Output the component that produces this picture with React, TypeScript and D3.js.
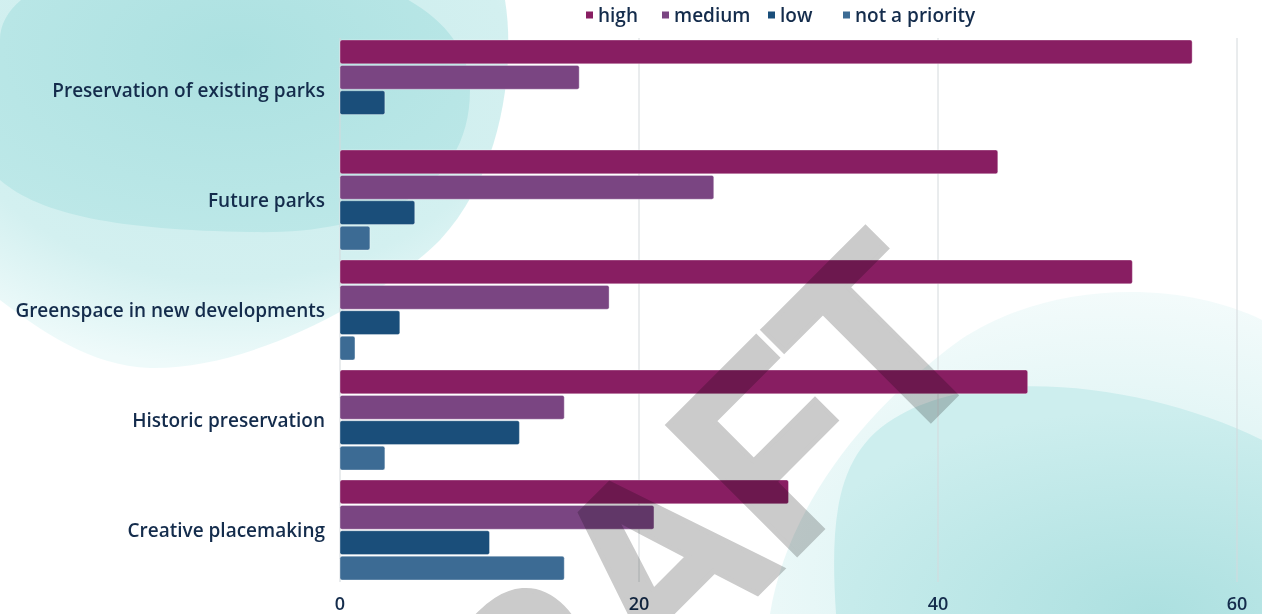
import React from "react";
import * as d3 from "d3";

const categories = [
  "Preservation of existing parks",
  "Future parks",
  "Greenspace in new developments",
  "Historic preservation",
  "Creative placemaking",
];
const seriesNames = ["high", "medium", "low", "not a priority"];
const high = [57, 44, 53, 46, 30];
const medium = [16, 25, 18, 15, 21];
const low = [3, 5, 4, 12, 10];
const notPriority = [0, 2, 1, 3, 15];
const xTicks = [0, 20, 40, 60];
const colors = ["#881e62", "#7a4582", "#1a4e7a", "#3c6b94"];

const W = 1262;
const H = 614;
const FONT = "'Open Sans', Lato, sans-serif";
const TEXT = "#142c4c";

export default function App() {
  const seriesValues = [high, medium, low, notPriority];
  const x = d3.scaleLinear().domain([0, 60]).range([340, 1237]);
  const y = d3
    .scaleBand<string>()
    .domain(categories)
    .range([35, 585])
    .paddingInner(0.0909)
    .paddingOuter(0.04545);
  const y1 = d3
    .scaleBand<string>()
    .domain(seriesNames)
    .range([0, y.bandwidth()])
    .paddingInner(0.06);

  const legendX = [586, 662, 768, 843];

  return (
    <svg
      width={W}
      height={H}
      style={{ position: "fixed", left: 0, top: 0, display: "block", background: "#fff" }}
    >
      <defs>
        <radialGradient id="gA" cx="0.45" cy="0.2" r="0.8">
          <stop offset="0" stopColor="#c9ecec" />
          <stop offset="0.7" stopColor="#d3f0f0" />
          <stop offset="1" stopColor="#eefafa" />
        </radialGradient>
        <radialGradient id="gB" cx="0.5" cy="0.35" r="0.7">
          <stop offset="0" stopColor="#ace1e1" />
          <stop offset="1" stopColor="#bde8e8" />
        </radialGradient>
        <radialGradient id="gC" cx="0.7" cy="0.9" r="0.9">
          <stop offset="0" stopColor="#cdeeee" />
          <stop offset="1" stopColor="#f3fbfb" />
        </radialGradient>
        <radialGradient id="gD" cx="0.75" cy="1" r="0.9">
          <stop offset="0" stopColor="#ace0e0" />
          <stop offset="1" stopColor="#cdeeee" />
        </radialGradient>
      </defs>

      {/* background blobs */}
      <path
        d="M0,0 L505,0 C515,60 505,170 440,240 C380,300 250,370 150,368 C90,366 40,330 0,300 Z"
        fill="url(#gA)"
      />
      <path
        d="M0,40 C0,-80 470,-80 470,90 C470,200 360,235 250,232 C120,230 40,215 0,180 Z"
        fill="url(#gB)"
      />
      <path
        d="M770,614 C785,520 850,420 960,340 C1050,280 1180,280 1262,320 L1262,614 Z"
        fill="url(#gC)"
      />
      <path
        d="M836,614 C830,520 835,450 900,415 C990,365 1150,385 1262,440 L1262,614 Z"
        fill="url(#gD)"
      />

      {/* grid */}
      {xTicks.map((t) => (
        <line
          key={"g" + t}
          x1={x(t)}
          x2={x(t)}
          y1={38}
          y2={582}
          stroke="#d4d9dc"
          strokeWidth={1}
        />
      ))}

      {/* bars */}
      {categories.map((c, i) => (
        <g key={c} transform={`translate(0,${y(c)})`}>
          {seriesNames.map((s, j) => {
            const v = seriesValues[j][i];
            if (!v) return null;
            return (
              <rect
                key={s}
                x={x(0)}
                y={y1(s)}
                width={x(v) - x(0)}
                height={y1.bandwidth()}
                rx={2}
                fill={colors[j]}
                stroke="rgba(255,255,255,0.35)"
                strokeWidth={1}
              />
            );
          })}
        </g>
      ))}

      {/* category labels */}
      {categories.map((c) => (
        <text
          key={"l" + c}
          x={325}
          y={(y(c) as number) + y.bandwidth() / 2}
          textAnchor="end"
          dominantBaseline="central"
          fontFamily={FONT}
          fontWeight={600}
          fontSize={19}
          fill={TEXT}
        >
          {c}
        </text>
      ))}

      {/* x tick labels */}
      {xTicks.map((t) => (
        <text
          key={"t" + t}
          x={x(t)}
          y={603}
          textAnchor="middle"
          dominantBaseline="central"
          fontFamily={FONT}
          fontWeight={600}
          fontSize={18}
          fill={TEXT}
        >
          {t}
        </text>
      ))}

      {/* legend */}
      {seriesNames.map((s, j) => (
        <g key={"lg" + s} transform={`translate(${legendX[j]},15)`}>
          <rect x={0} y={-3.5} width={7} height={7} fill={colors[j]} />
          <text
            x={12}
            y={0}
            dominantBaseline="central"
            fontFamily={FONT}
            fontWeight={600}
            fontSize={19}
            fill={TEXT}
          >
            {s}
          </text>
        </g>
      ))}

      {/* watermark */}
      <text
        transform="translate(413,938) rotate(-45) scale(0.928,1)"
        fontFamily="'Liberation Sans', Arial, sans-serif"
        fontWeight={700}
        fontSize={265}
        letterSpacing={-2.2}
        fill="#cbcbcb"
        stroke="#cbcbcb"
        strokeWidth={5}
        strokeLinejoin="miter"
        style={{ mixBlendMode: "multiply" }}
      >
        DRAFT
      </text>
    </svg>
  );
}
